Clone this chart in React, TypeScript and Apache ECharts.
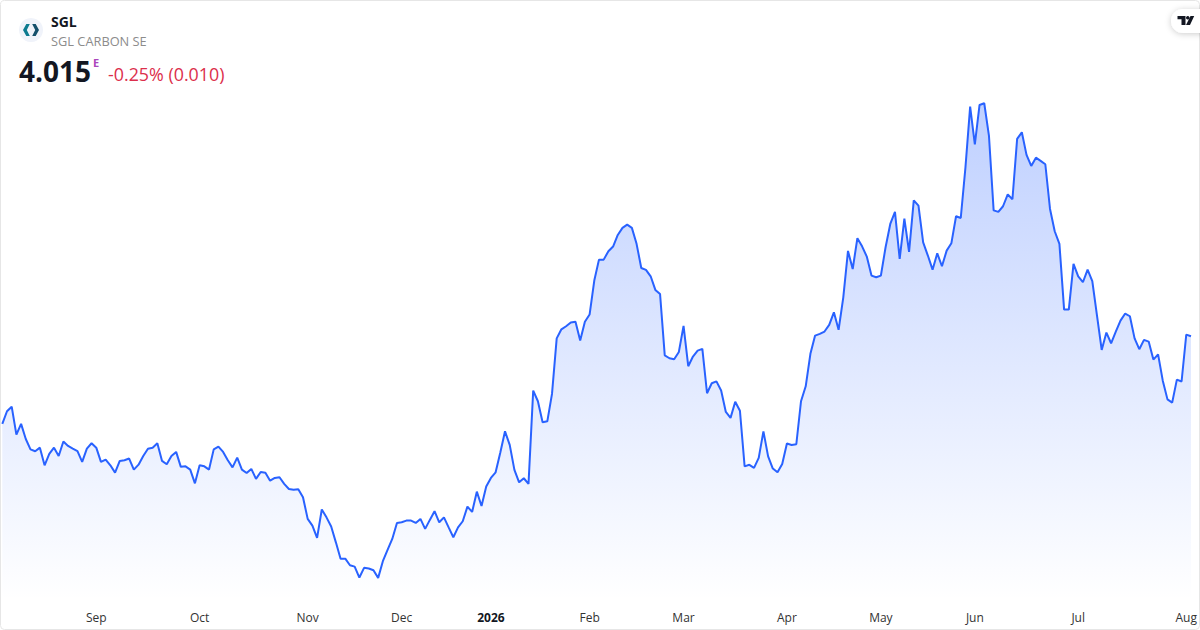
import React, { useEffect, useRef } from "react";
import * as echarts from "echarts";

const symbolName = "SGL";
const companyName = "SGL CARBON SE";
const lastPrice = "4.015";
const sessionBadge = "E";
const changeText = "-0.25% (0.010)";
const firstTradingDay = "2025-08-04";
const marketHolidays = ["2025-12-24", "2025-12-25", "2025-12-26", "2025-12-31", "2026-01-01", "2026-04-03", "2026-04-06", "2026-05-01"];
const monthNames = ["Jan", "Feb", "Mar", "Apr", "May", "Jun", "Jul", "Aug", "Sep", "Oct", "Nov", "Dec"];
const prices = [
  3.5, 3.574, 3.601, 3.437, 3.5, 3.411, 3.35, 3.339, 3.36, 3.256,
  3.323, 3.36, 3.311, 3.396, 3.37, 3.354, 3.339, 3.276, 3.354, 3.386,
  3.36, 3.276, 3.29, 3.256, 3.213, 3.282, 3.286, 3.296, 3.231, 3.26,
  3.311, 3.354, 3.36, 3.386, 3.282, 3.262, 3.311, 3.335, 3.247, 3.25,
  3.231, 3.15, 3.256, 3.25, 3.231, 3.35, 3.366, 3.335, 3.286, 3.244,
  3.301, 3.231, 3.211, 3.235, 3.176, 3.217, 3.213, 3.166, 3.182, 3.186,
  3.147, 3.117, 3.113, 3.116, 3.068, 2.941, 2.901, 2.829, 2.996, 2.95,
  2.896, 2.803, 2.707, 2.707, 2.668, 2.66, 2.596, 2.653, 2.649, 2.639,
  2.594, 2.692, 2.759, 2.823, 2.917, 2.921, 2.931, 2.931, 2.917, 2.941,
  2.882, 2.935, 2.986, 2.921, 2.95, 2.891, 2.833, 2.891, 2.927, 3.013,
  2.982, 3.101, 3.017, 3.131, 3.182, 3.215, 3.331, 3.456, 3.376, 3.229,
  3.156, 3.18, 3.147, 3.696, 3.633, 3.509, 3.515, 3.676, 4.003, 4.056,
  4.074, 4.096, 4.1, 3.99, 4.101, 4.143, 4.343, 4.466, 4.466, 4.515,
  4.543, 4.611, 4.653, 4.672, 4.653, 4.559, 4.417, 4.406, 4.368, 4.288,
  4.264, 3.903, 3.886, 3.88, 3.923, 4.076, 3.839, 3.896, 3.931, 3.941,
  3.68, 3.739, 3.75, 3.696, 3.57, 3.535, 3.63, 3.577, 3.25, 3.259,
  3.241, 3.3, 3.456, 3.309, 3.237, 3.215, 3.264, 3.384, 3.376, 3.38,
  3.633, 3.721, 3.912, 4.019, 4.029, 4.043, 4.082, 4.156, 4.053, 4.244,
  4.517, 4.411, 4.592, 4.544, 4.484, 4.372, 4.362, 4.372, 4.539, 4.676,
  4.747, 4.47, 4.707, 4.511, 4.815, 4.784, 4.568, 4.49, 4.407, 4.503,
  4.427, 4.519, 4.562, 4.721, 4.711, 5.009, 5.366, 5.144, 5.376, 5.386,
  5.196, 4.756, 4.747, 4.78, 4.85, 4.821, 5.176, 5.215, 5.082, 5.017,
  5.066, 5.047, 5.027, 4.764, 4.633, 4.559, 4.172, 4.172, 4.441, 4.368,
  4.333, 4.407, 4.339, 4.137, 3.935, 4.037, 3.974, 4.043, 4.107, 4.149,
  4.133, 4.003, 3.939, 3.994, 3.984, 3.878, 3.909, 3.754, 3.644, 3.625,
  3.76, 3.749, 4.025, 4.015,
];

function buildTradingDays(count: number): string[] {
  const days: string[] = [];
  const cursor = new Date(firstTradingDay + "T00:00:00Z");
  while (days.length < count) {
    const iso = cursor.toISOString().slice(0, 10);
    const weekday = cursor.getUTCDay();
    if (weekday !== 0 && weekday !== 6 && !marketHolidays.includes(iso)) days.push(iso);
    cursor.setUTCDate(cursor.getUTCDate() + 1);
  }
  return days;
}

const tradingDays = buildTradingDays(prices.length);
const isFirstOfMonth = (index: number) =>
  index > 0 && tradingDays[index].slice(0, 7) !== tradingDays[index - 1].slice(0, 7);

const FONT = '"Open Sans", sans-serif';

export default function App() {
  const ref = useRef<HTMLDivElement>(null);
  useEffect(() => {
    const chart = echarts.init(ref.current!, undefined, { renderer: "svg" });
    chart.setOption({
      animation: false,
      backgroundColor: "#ffffff",
      textStyle: { fontFamily: FONT },
      grid: { left: 2.3, width: 1189.1, top: 100.6, height: 500 },
      xAxis: {
        type: "category",
        data: tradingDays,
        boundaryGap: false,
        axisLine: { show: false },
        axisTick: { show: false },
        splitLine: { show: false },
        axisLabel: {
          interval: (index: number) => isFirstOfMonth(index),
          hideOverlap: false,
          margin: 11,
          fontFamily: FONT,
          fontSize: 12,
          color: "#333333",
          formatter: (value: string) => {
            const month = Number(value.slice(5, 7));
            if (month === 1) return "{year|" + value.slice(0, 4) + "}";
            return monthNames[month - 1];
          },
          rich: {
            year: { fontFamily: FONT, fontSize: 12, fontWeight: 700, color: "#131722" },
          },
        },
      },
      yAxis: { type: "value", show: false, min: 2.4603, max: 5.4015, splitLine: { show: false } },
      series: [
        {
          type: "line",
          data: prices,
          symbol: "none",
          smooth: false,
          lineStyle: { color: "#2962ff", width: 2 },
          itemStyle: { color: "#2962ff" },
          areaStyle: {
            opacity: 1,
            color: new echarts.graphic.LinearGradient(0, 0, 0, 1, [
              { offset: 0, color: "rgba(41,98,255,0.3)" },
              { offset: 1, color: "rgba(41,98,255,0)" },
            ]),
          },
        },
      ],
      graphic: [
        { type: "rect", silent: true, shape: { x: 0.5, y: 0.5, width: 1199, height: 629, r: 4 }, style: { fill: "none", stroke: "#e6e6e6", lineWidth: 1 } },
        { type: "circle", silent: true, shape: { cx: 31, cy: 30, r: 12 }, style: { fill: "#f0f3fa" } },
        { type: "polygon", silent: true, shape: { points: [[29.8, 24], [26.3, 24], [23, 30], [26.3, 36], [29.8, 36], [26.8, 30]] }, style: { fill: "#0b7a8f" } },
        { type: "polygon", silent: true, shape: { points: [[32.2, 24], [35.7, 24], [39, 30], [35.7, 36], [32.2, 36], [35.2, 30]] }, style: { fill: "#14506b" } },
        { type: "text", silent: true, style: { x: 51, y: 21, text: symbolName, fontFamily: FONT, fontSize: 14, fontWeight: 700, fill: "#131722", verticalAlign: "middle" } },
        { type: "text", silent: true, style: { x: 51, y: 40.5, text: companyName, fontFamily: FONT, fontSize: 12.8, fill: "#8c8c8c", verticalAlign: "middle" } },
        { type: "text", silent: true, style: { x: 19, y: 71, text: lastPrice, fontFamily: FONT, fontSize: 28, fontWeight: 700, fill: "#131722", verticalAlign: "middle" } },
        { type: "text", silent: true, style: { x: 93, y: 62, text: sessionBadge, fontFamily: FONT, fontSize: 11, fontWeight: 700, fill: "#ab47bc", verticalAlign: "middle" } },
        { type: "text", silent: true, style: { x: 108, y: 74, text: changeText, fontFamily: FONT, fontSize: 17.85, fill: "#dc2f4c", verticalAlign: "middle" } },
        { type: "rect", silent: true, shape: { x: 1171, y: 9, width: 50, height: 24, r: 12 }, style: { fill: "#ffffff", shadowBlur: 6, shadowColor: "rgba(0,0,0,0.2)", shadowOffsetY: 1 } },
        { type: "polygon", silent: true, shape: { points: [[1177.5, 16], [1185.5, 16], [1185.5, 25], [1181.5, 25], [1181.5, 19.2], [1177.5, 19.2]] }, style: { fill: "#131722" } },
        { type: "circle", silent: true, shape: { cx: 1187.8, cy: 17.8, r: 1.8 }, style: { fill: "#131722" } },
        { type: "polygon", silent: true, shape: { points: [[1190.5, 16], [1194.2, 16], [1190, 25], [1186, 25]] }, style: { fill: "#131722" } },
      ],
    });
    return () => chart.dispose();
  }, []);
  return (
    <div
      ref={ref}
      style={{ position: "absolute", left: 0, top: 0, width: 1200, height: 630, background: "#ffffff" }}
    />
  );
}
